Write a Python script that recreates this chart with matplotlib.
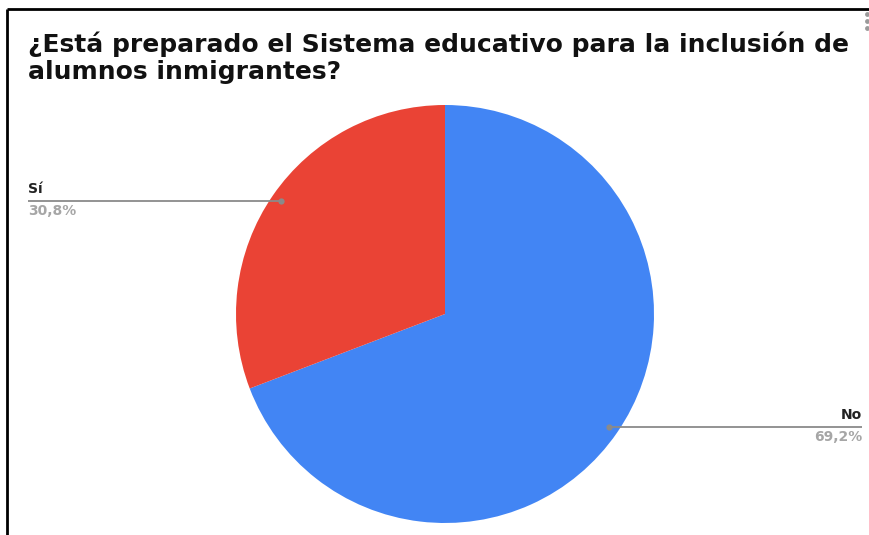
import numpy as np
import matplotlib.pyplot as plt

plt.rcParams['font.family'] = ['DejaVu Sans']

# survey answers
labels = ['No', 'Sí']
shares = [69.2, 30.8]
colors = ['#4285F4', '#EA4335']
pct_text = ['69,2%', '30,8%']
title = '¿Está preparado el Sistema educativo para la inclusión de\nalumnos inmigrantes?'

W, H = 870, 535
fig = plt.figure(figsize=(W / 100, H / 100), dpi=100)
ax = fig.add_axes([0, 0, 1, 1])

cx, cy, r = 445, 221, 209
wedges, _ = ax.pie(shares, colors=colors, startangle=90, counterclock=False,
                   center=(cx, cy), radius=r, frame=True,
                   wedgeprops=dict(linewidth=0))
ax.set_xlim(0, W)
ax.set_ylim(0, H)
ax.set_aspect('equal')
ax.axis('off')

# leader lines out to the side labels
for w, lab, pct in zip(wedges, labels, pct_text):
    mid = np.deg2rad((w.theta1 + w.theta2) / 2)
    px = cx + 0.95 * r * np.cos(mid)
    py = cy + 0.95 * r * np.sin(mid)
    if px > cx:
        end, ha = 862, 'right'
    else:
        end, ha = 28, 'left'
    ax.plot([px, end], [py, py], color='#8a8a8a', lw=1.3, solid_capstyle='butt')
    ax.plot(px, py, 'o', color='#8a8a8a', ms=4.5, mec='none')
    ax.text(end, py + 5, lab, ha=ha, va='bottom', fontsize=10,
            fontweight='bold', color='#222222')
    ax.text(end, py - 3, pct, ha=ha, va='top', fontsize=10,
            fontweight='bold', color='#a6a6a6')

ax.text(28, H - 31, title, ha='left', va='top', fontsize=18,
        fontweight='bold', color='#111111', linespacing=1.2)

# frame edges and menu dots
ax.plot([7, W], [H - 9, H - 9], color='black', lw=2, solid_capstyle='butt')
ax.plot([7, 7], [0, H - 9], color='black', lw=2, solid_capstyle='butt')
for yy in (H - 14, H - 21, H - 28):
    ax.plot(867, yy, 'o', color='#9a9a9a', ms=3.5, mec='none')

fig.savefig('out.png', dpi=100)
